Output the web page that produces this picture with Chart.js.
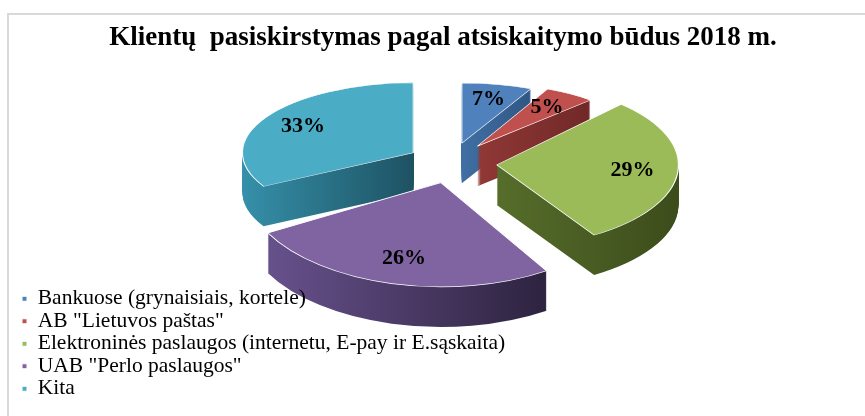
<!DOCTYPE html>
<html>
<head>
<meta charset="utf-8">
<script src="https://cdn.jsdelivr.net/npm/chart.js@4.4.1/dist/chart.umd.min.js"></script>
<style>
  html, body { margin: 0; padding: 0; background: #fff; }
  #wrap { position: relative; width: 865px; height: 416px; overflow: hidden; }
  #frame { position: absolute; left: 7px; top: 13px; width: 870px; height: 420px; border-left: 2px solid #d9d9d9; border-top: 2px solid #d9d9d9; }
  canvas { position: absolute; left: 0; top: 0; }
</style>
</head>
<body>
<div id="wrap">
  <div id="frame"></div>
  <canvas id="pie_chart_payments" width="865" height="416"></canvas>
</div>
<script>
var chartTitle = 'Klientų  pasiskirstymas pagal atsiskaitymo būdus 2018 m.';

var categories = [
  'Bankuose (grynaisiais, kortele)',
  'AB "Lietuvos paštas"',
  'Elektroninės paslaugos (internetu, E-pay ir E.sąskaita)',
  'UAB "Perlo paslaugos"',
  'Kita'
];
var shares = [7, 5, 29, 26, 33];

var topColors = ['#4F81BD', '#C0504D', '#9BBB59', '#8064A2', '#4BACC6'];
// walls: lighter on the left, darker on the right
var sideLight = ['#416FA3', '#903836', '#566D2B', '#67518C', '#3590A9'];
var sideDark  = ['#2F5785', '#702927', '#3C4C1B', '#2D233F', '#1E5263'];

// fake 3d look
var PIE_DEPTH = 40;       // wall height, px
var PIE_TILT = 0.45;      // vertical squash of the disc
var PERSP_SIZE = 0.1;     // front slices look a bit bigger
var PERSP_TILT = 0.18;    // ...and a bit less squashed
var PIE_EXPLODE = 45;     // how far every slice is pulled out
var PIE_AXIS = { x: 452, y: 163 };
var LABEL_AT = 0.75;

function sliceView(arc) {
  var mid = (arc.startAngle + arc.endAngle) / 2;
  var front = Math.sin(mid);
  var s = 1 + PERSP_SIZE * front;
  var k = PIE_TILT * (1 + PERSP_TILT * front);
  return {
    mid: mid,
    s: s,
    k: k,
    ox: PIE_AXIS.x + Math.cos(mid) * PIE_EXPLODE,
    oy: PIE_AXIS.y + Math.sin(mid) * PIE_EXPLODE * PIE_TILT
  };
}

function setSliceTransform(ctx, arc, v, drop) {
  ctx.setTransform(v.s, 0, 0, v.s * v.k, v.ox - v.s * arc.x, v.oy + drop - v.s * v.k * arc.y);
}

function drawArcWith(ctx, arc, fill, border) {
  var keep = arc.options;
  arc.options = Object.assign({}, keep, {
    backgroundColor: fill,
    borderColor: '#ffffff',
    borderWidth: border
  });
  arc.draw(ctx);
  arc.options = keep;
}

function wallGradient(ctx, arc, i) {
  var xs = [arc.x];
  for (var a = arc.startAngle; a <= arc.endAngle; a += 0.05) {
    xs.push(arc.x + Math.cos(a) * arc.outerRadius);
  }
  xs.push(arc.x + Math.cos(arc.endAngle) * arc.outerRadius);
  var g = ctx.createLinearGradient(Math.min.apply(null, xs), 0, Math.max.apply(null, xs), 0);
  g.addColorStop(0, sideLight[i]);
  g.addColorStop(1, sideDark[i]);
  return g;
}

var pie3d = {
  id: 'pie3d',
  afterInit: function(chart) {
    // legend sits inside the plot and over the slices, like in the excel picture.
    // a 'chartArea' legend is laid out from y=0, so move it down to the plot top
    var legend = chart.legend;
    legend._layers = function() {
      return [{
        z: 1,
        draw: function(area) {
          chart.ctx.save();
          chart.ctx.translate(0, chart.chartArea.top);
          legend.draw(area);
          chart.ctx.restore();
        }
      }];
    };
  },
  beforeDatasetsDraw: function(chart) {
    var ctx = chart.ctx;
    var arcs = chart.getDatasetMeta(0).data;
    var views = arcs.map(sliceView);
    var walls = arcs.map(function(arc, i) { return wallGradient(ctx, arc, i); });

    ctx.save();
    for (var d = PIE_DEPTH; d > 0; d--) {
      arcs.forEach(function(arc, i) {
        setSliceTransform(ctx, arc, views[i], d);
        drawArcWith(ctx, arc, walls[i], 0);
      });
    }
    arcs.forEach(function(arc, i) {
      setSliceTransform(ctx, arc, views[i], 0);
      drawArcWith(ctx, arc, topColors[i], 1.2);
    });
    ctx.restore();

    // percent labels
    ctx.save();
    ctx.font = 'bold 22px "Liberation Serif"';
    ctx.fillStyle = '#000';
    ctx.textAlign = 'center';
    ctx.textBaseline = 'middle';
    arcs.forEach(function(arc, i) {
      var v = views[i];
      var dist = v.s * arc.outerRadius * LABEL_AT;
      var lx = v.ox + Math.cos(v.mid) * dist;
      var ly = v.oy + Math.sin(v.mid) * dist * v.k;
      ctx.fillText(shares[i] + '%', lx, ly);
    });
    ctx.restore();

    return false;
  }
};

function showPieChartPayments() {

  var config = {
    type: 'pie',
    data: {
      labels: categories,
      datasets: [{
        data: shares,
        backgroundColor: topColors,
        borderColor: '#ffffff',
        borderWidth: 1,
        radius: 180,
        clip: false
      }]
    },
    options: {
      responsive: false,
      animation: false,
      events: [],
      layout: {
        padding: { left: 21, right: 0, top: 0, bottom: 15.5 }
      },
      plugins: {
        title: {
          display: true,
          text: chartTitle,
          color: '#000',
          font: { family: 'Liberation Serif', size: 27, weight: 'bold' },
          padding: { top: 22, bottom: 6 }
        },
        legend: {
          position: 'chartArea',
          align: 'end',
          labels: {
            color: '#000',
            font: { family: 'Liberation Serif', size: 21.5 },
            boxWidth: 5,
            boxHeight: 5,
            padding: 1
          }
        },
        tooltip: { enabled: false }
      }
    },
    plugins: [pie3d]
  };

  new Chart(document.getElementById('pie_chart_payments').getContext('2d'), config);
}

document.addEventListener('DOMContentLoaded', showPieChartPayments, false);
</script>
</body>
</html>
